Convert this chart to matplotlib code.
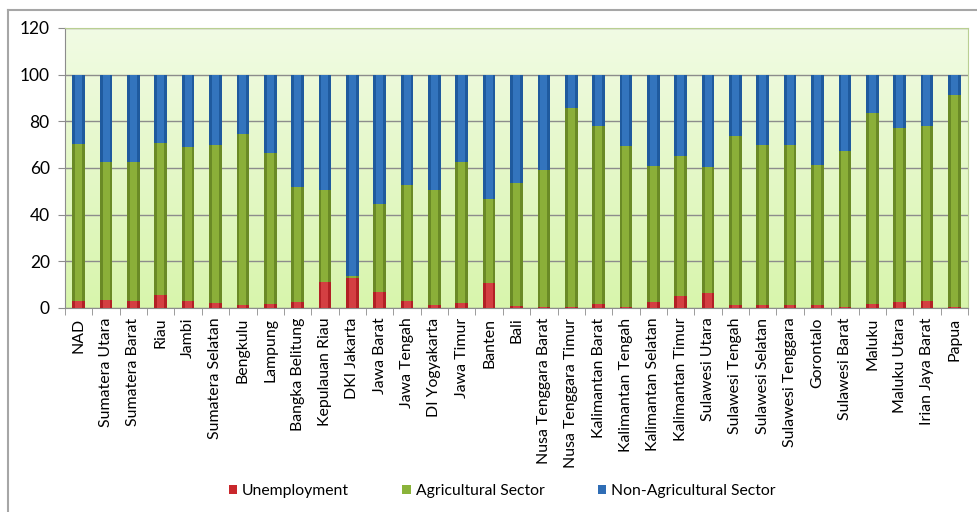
import numpy as np
import matplotlib.pyplot as plt
from matplotlib.lines import Line2D
from matplotlib.patches import Patch

provinces = ["NAD", "Sumatera Utara", "Sumatera Barat", "Riau", "Jambi",
             "Sumatera Selatan", "Bengkulu", "Lampung", "Bangka Belitung",
             "Kepulauan Riau", "DKI Jakarta", "Jawa Barat", "Jawa Tengah",
             "DI Yogyakarta", "Jawa Timur", "Banten", "Bali",
             "Nusa Tenggara Barat", "Nusa Tenggara Timur", "Kalimantan Barat",
             "Kalimantan Tengah", "Kalimantan Selatan", "Kalimantan Timur",
             "Sulawesi Utara", "Sulawesi Tengah", "Sulawesi Selatan",
             "Sulawesi Tenggara", "Gorontalo", "Sulawesi Barat", "Maluku",
             "Maluku Utara", "Irian Jaya Barat", "Papua"]

# persentase pengangguran
unemployment = [3.0, 3.4, 3.0, 5.6, 3.0, 2.0, 1.1, 1.7, 2.4, 11.0, 12.7,
                7.0, 3.0, 1.4, 2.1, 10.6, 1.0, 0.6, 0.6, 1.7, 0.6, 2.4,
                5.3, 6.3, 1.4, 1.4, 1.4, 1.1, 0.4, 1.7, 2.7, 3.1, 0.6]
# sektor pertanian
agricultural = [67.3, 59.2, 59.6, 65.1, 66.0, 67.7, 73.6, 64.7, 49.5, 39.7,
                0.9, 37.7, 49.9, 49.3, 60.3, 36.1, 52.6, 58.7, 85.1, 76.2,
                68.7, 58.3, 60.0, 54.1, 72.2, 68.3, 68.6, 60.0, 67.0, 81.9,
                74.4, 74.8, 90.5]
# sektor non-pertanian = sisa sampai 100
non_agricultural = [100 - u - a for u, a in zip(unemployment, agricultural)]

fig = plt.figure(figsize=(9.78, 5.12), dpi=100)
ax = fig.add_axes([65 / 978, 1 - 308 / 512, 903 / 978, 280 / 512])

# latar plot bergradasi hijau muda
grad = np.linspace(0, 1, 256).reshape(-1, 1)
bg = np.array([0xD8, 0xF5, 0xAC]) / 255 * (1 - grad)[..., None] + \
     np.array([0xF1, 0xFB, 0xE4]) / 255 * grad[..., None]
ax.imshow(bg, extent=(-0.5, len(provinces) - 0.5, 0, 120), origin="lower",
          aspect="auto", zorder=0)

x = np.arange(len(provinces))
w = 0.46
u = np.array(unemployment)
a = np.array(agricultural)
n = np.array(non_agricultural)

series = [
    (u, 0, "#B22025", "#E04A4D"),
    (a, u, "#6A8A26", "#97BC40"),
    (n, u + a, "#1F5A9E", "#3B7DC8"),
]
for vals, base, dark, light in series:
    ax.bar(x, vals, w, bottom=base, color=dark, edgecolor="none", zorder=3)
    ax.bar(x, vals, w * 0.55, bottom=base, color=light, edgecolor="none",
           zorder=3.5, alpha=0.75)

ax.set_xlim(-0.5, len(provinces) - 0.5)
ax.set_ylim(0, 120)
ax.set_yticks(range(0, 121, 20))
ax.yaxis.grid(True, color="#8C8C8C", linewidth=1, zorder=1)
ax.set_axisbelow(True)

ax.set_xticks(x)
ax.set_xticklabels(provinces, rotation=90, fontsize=11.4, family="Lato")
ax.set_xticks(np.arange(-0.5, len(provinces)), minor=True)
ax.tick_params(axis="x", which="major", length=0, pad=7)
ax.tick_params(axis="x", which="minor", length=5, color="#8C8C8C")
ax.tick_params(axis="y", length=5, color="#8C8C8C", labelsize=12.5, pad=6)
for t in ax.get_yticklabels():
    t.set_family("Lato")

for side in ["top", "right"]:
    ax.spines[side].set_color("#B9CF92")
ax.spines["left"].set_color("#8C8C8C")
ax.spines["bottom"].set_color("#8C8C8C")

legend_items = [("#C9282C", "Unemployment"),
                ("#8AB33A", "Agricultural Sector"),
                ("#2F6DB5", "Non-Agricultural Sector")]
handles = [Patch(facecolor=c, edgecolor="none", label=l) for c, l in legend_items]
fig.legend(handles=handles, loc="center", bbox_to_anchor=(502 / 978, 1 - 491 / 512),
           ncol=3, frameon=False, handlelength=0.55, handleheight=0.55,
           handletextpad=0.3, columnspacing=3.4,
           prop={"family": "Lato", "size": 11.3})

# bingkai luar
fig.add_artist(Line2D([8 / 978, 8 / 978], [0, 1 - 10 / 512], color="#A6A6A6",
                      linewidth=1.5, transform=fig.transFigure))
fig.add_artist(Line2D([8 / 978, 1], [1 - 10 / 512, 1 - 10 / 512], color="#A6A6A6",
                      linewidth=1.5, transform=fig.transFigure))

fig.savefig("out.png", dpi=100)
